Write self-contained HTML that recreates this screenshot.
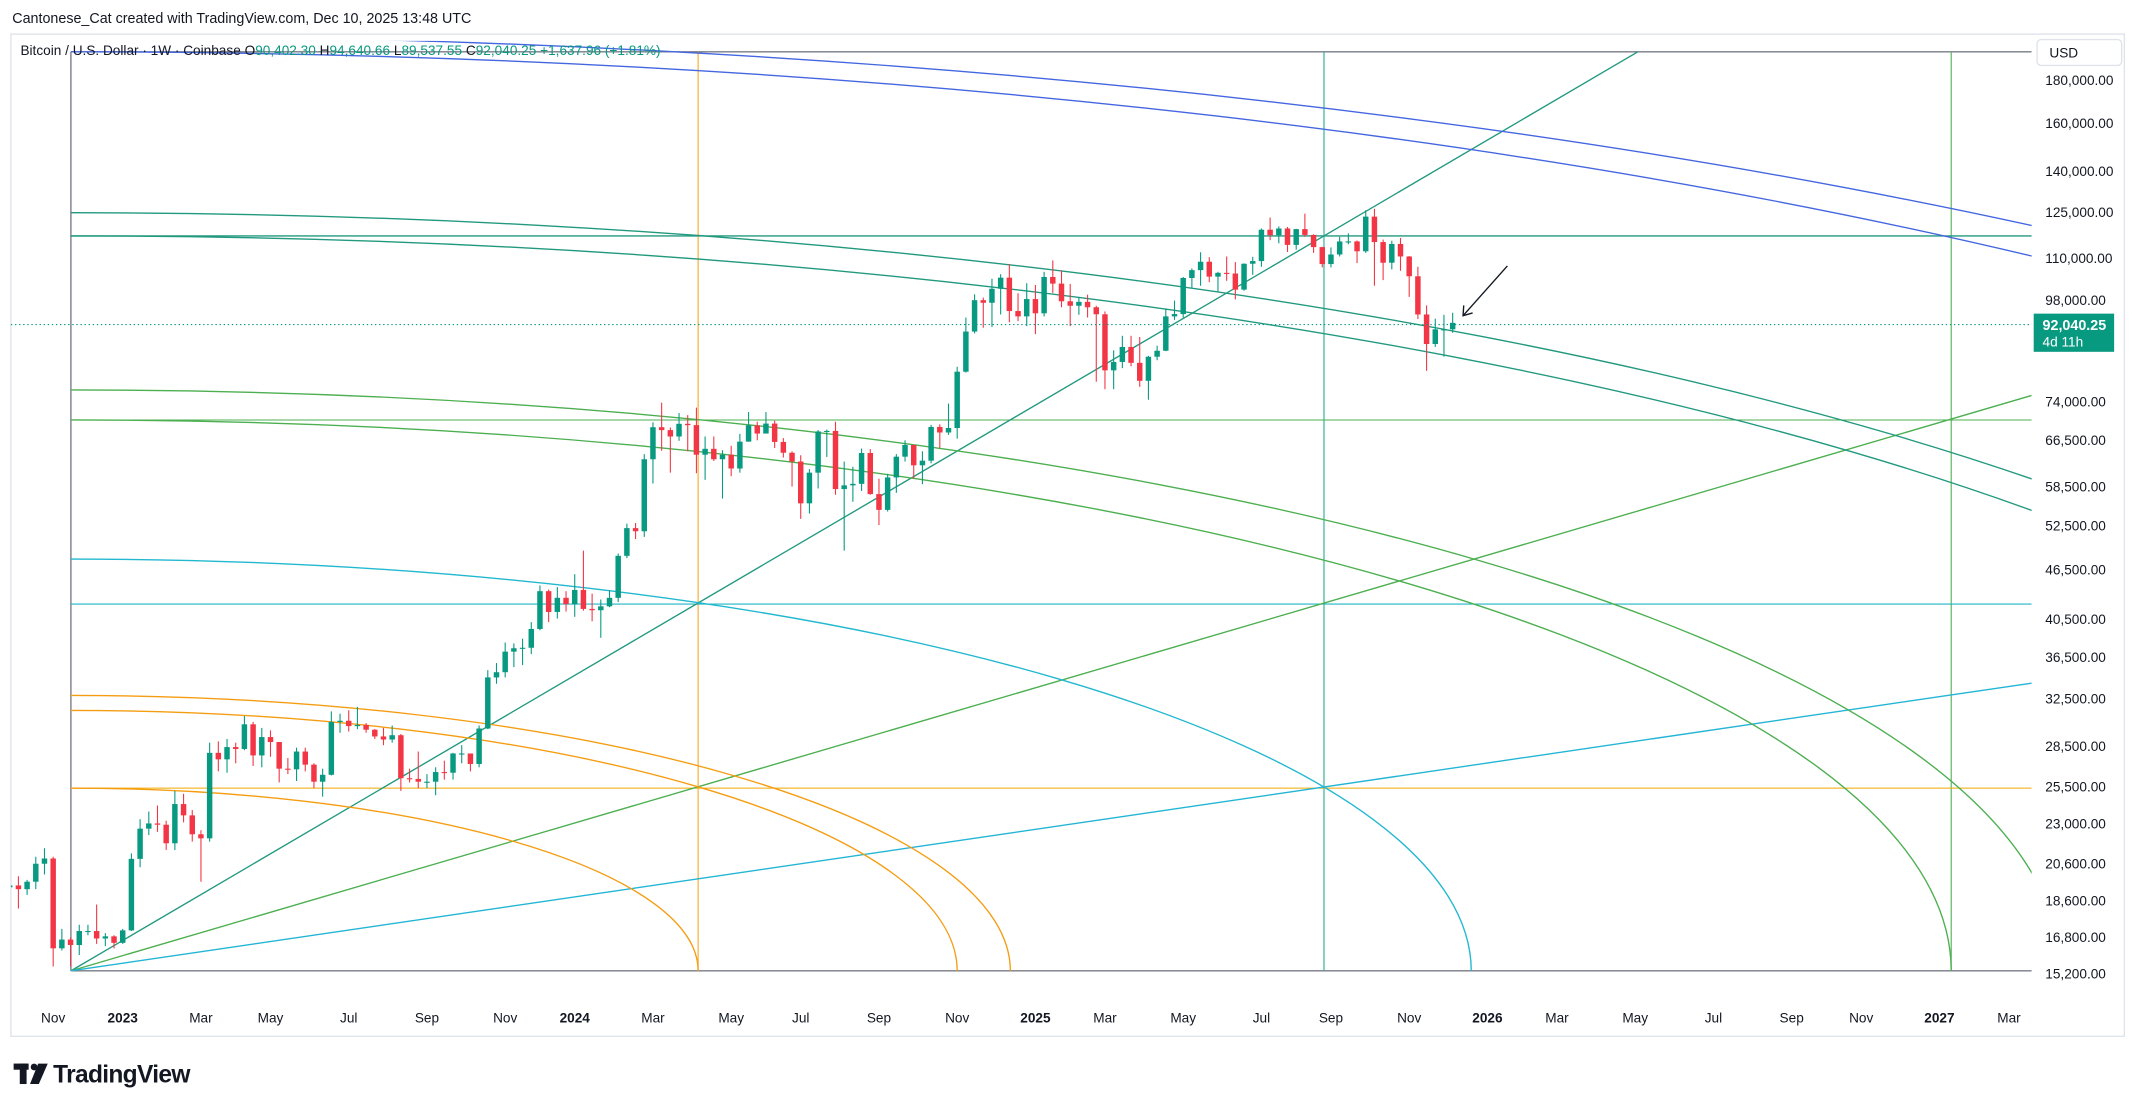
<!DOCTYPE html>
<html><head><meta charset="utf-8"><style>
html,body{margin:0;padding:0;background:#fff;}
svg{display:block;font-family:"Liberation Sans",sans-serif;}
</style></head><body>
<svg id="chart" width="2138" height="1109" viewBox="0 0 1568 813.3" xmlns="http://www.w3.org/2000/svg">
<rect x="0" y="0" width="1568" height="813.3" fill="#fff"/>
<text x="9" y="17" font-size="10.5" fill="#131722">Cantonese_Cat created with TradingView.com, Dec 10, 2025 13:48 UTC</text>
<rect x="8" y="25" width="1550" height="735" fill="none" stroke="#e0e3eb" stroke-width="1"/>
<defs><clipPath id="plotclip"><rect x="8" y="30" width="1482" height="683.5"/></clipPath></defs>
<g id="drawings" clip-path="url(#plotclip)"></g>
<g id="candles" clip-path="url(#plotclip)"></g>
<line x1="8" x2="1490" y1="238" y2="238" stroke="#089981" stroke-width="0.8" stroke-dasharray="1,2"/>
<g>
<line x1="1105.5" y1="195" x2="1073" y2="231.5" stroke="#131722" stroke-width="1"/>
<polyline points="1073.5,224 1073,231.5 1080,229.5" fill="none" stroke="#131722" stroke-width="1"/>
</g>
<text x="15" y="40.5" font-size="10" fill="#131722">Bitcoin / U.S. Dollar · 1W · Coinbase <tspan>O</tspan><tspan fill="#089981">90,402.30</tspan> <tspan>H</tspan><tspan fill="#089981">94,640.66</tspan> <tspan>L</tspan><tspan fill="#089981">89,537.55</tspan> <tspan>C</tspan><tspan fill="#089981">92,040.25 +1,637.96 (+1.81%)</tspan></text>
<g id="yaxis"></g>
<g id="xaxis"></g>
<g>
<rect x="1494" y="29" width="62" height="19" rx="3" fill="#fff" stroke="#e0e3eb"/>
<text x="1503" y="42" font-size="10" fill="#131722">USD</text>
</g>
<g>
<rect x="1491.5" y="230" width="59" height="28" fill="#089981"/>
<text x="1498" y="242" font-size="10.5" fill="#fff" font-weight="bold">92,040.25</text>
<text x="1498" y="254" font-size="10" fill="#fff">4d 11h</text>
</g>
<g>
<rect x="10" y="780" width="11" height="4.5" fill="#131722"/>
<rect x="14.5" y="780" width="5" height="15" fill="#131722"/>
<circle cx="25" cy="782.5" r="2.5" fill="#131722"/>
<polygon points="28,780 35,780 28.5,795 22,795" fill="#131722"/>
<text x="39" y="794" font-size="18" font-weight="bold" fill="#131722" letter-spacing="-0.5">TradingView</text>
</g>
</svg>
<script>
// ---- data (weekly BTC/USD, thousands USD), first week = Sep 26 2022 ----
const firstOpen = 18.8;
const closes = [19.3,19.4,19.2,19.6,20.6,20.9,16.3,16.7,16.45,17.1,17.1,16.75,16.85,16.55,17.13,20.88,22.7,23.03,22.95,21.8,24.3,23.55,22.35,22.1,28.0,27.5,28.45,28.3,30.3,27.8,29.25,28.85,26.8,26.75,28.1,27.1,25.85,26.35,30.5,30.6,30.15,30.25,29.85,29.3,29.05,29.4,26.1,26.05,25.85,25.85,26.55,26.5,27.95,27.95,27.15,29.95,34.5,35.0,37.05,37.4,37.45,39.45,43.8,41.35,43.0,42.25,43.95,41.7,41.55,42.0,43.0,48.3,52.15,51.7,63.1,68.95,68.4,67.2,69.6,69.35,63.9,64.95,63.1,63.9,61.5,66.25,69.3,67.75,69.65,66.2,64.25,62.7,55.85,60.8,68.15,68.25,58.1,58.7,58.95,64.2,57.3,54.85,60.0,63.55,65.65,62.05,62.85,69.0,67.95,68.8,80.4,89.85,98.0,97.3,101.15,104.3,95.1,93.7,98.3,94.5,104.5,102.6,97.7,96.5,97.55,96.1,94.25,80.7,82.6,86.1,82.4,78.4,83.8,85.2,93.7,94.3,104.2,106.5,109.0,104.6,105.7,105.5,100.9,108.4,109.2,119.1,117.3,119.5,114.2,119.3,117.4,113.5,108.3,111.2,115.3,115.3,112.2,123.5,115.1,108.7,114.5,110.6,104.7,94.2,86.8,90.4,90.4,92.04];
const highs = [20.2,20.5,19.9,19.7,21.0,21.5,21.0,17.2,16.8,17.4,17.4,18.4,17.0,16.9,17.2,21.2,23.3,23.8,24.2,23.2,25.2,25.0,23.9,22.6,28.8,28.9,29.1,28.8,31.0,30.5,30.0,29.8,28.2,27.6,28.4,28.4,27.2,26.8,31.4,31.2,31.5,31.8,30.4,29.9,30.0,30.2,29.5,26.8,28.1,26.4,26.9,27.4,28.0,28.6,27.9,30.2,35.2,35.9,38.0,37.9,38.4,40.2,44.5,44.0,44.3,43.8,45.9,49.0,43.5,42.8,43.9,48.6,52.8,52.9,64.0,69.9,73.8,68.9,71.7,71.3,72.8,67.2,67.2,64.7,65.5,67.7,71.9,70.0,71.9,70.2,66.9,64.5,63.8,61.4,68.4,68.5,70.0,62.7,61.8,65.0,64.9,59.8,60.6,64.0,66.5,65.6,64.5,69.4,69.5,73.6,81.5,93.4,99.6,98.7,104.0,105.3,108.3,99.9,102.7,102.2,106.0,109.4,106.4,102.5,98.8,99.5,96.5,95.0,85.3,88.8,88.8,88.5,84.0,86.4,95.8,97.9,104.5,107.0,111.9,110.4,106.0,110.6,108.9,108.5,110.5,119.5,123.2,120.2,120.0,119.4,124.5,117.6,113.6,113.4,116.8,117.9,115.6,125.7,126.2,115.9,115.5,116.4,110.7,107.5,96.6,93.1,94.1,94.64];
const lows = [18.5,19.0,18.2,18.9,19.2,20.0,15.5,16.2,15.5,16.0,16.9,16.5,16.4,16.3,16.5,17.1,20.4,22.3,22.5,21.4,21.4,23.1,21.9,19.6,21.9,26.6,26.5,27.2,28.2,27.0,26.9,27.7,25.8,26.4,25.9,26.6,25.4,24.8,26.3,29.6,29.7,29.9,29.6,29.1,28.6,28.8,25.2,25.8,25.4,25.4,24.9,26.0,26.0,27.2,26.6,26.9,29.9,33.9,34.5,35.5,35.7,36.8,39.3,40.2,40.6,41.4,40.8,41.5,40.3,38.5,41.9,42.5,48.0,50.6,50.9,59.0,64.6,60.8,66.4,64.5,60.7,59.6,62.8,56.6,60.2,60.8,66.6,66.5,68.4,65.1,63.4,58.5,53.5,54.3,58.2,63.5,57.2,49.0,56.1,57.8,57.2,52.6,54.6,57.5,62.7,59.8,58.9,62.4,65.1,67.5,66.8,80.2,89.4,90.8,91.0,94.2,92.2,92.5,91.2,89.2,93.7,100.0,96.1,91.2,94.1,93.4,78.2,76.6,76.6,81.2,81.6,77.1,74.4,83.0,85.1,92.8,93.4,101.5,102.0,103.0,100.4,103.4,98.2,100.6,105.1,107.5,115.7,114.7,112.0,112.7,116.8,111.7,107.3,107.3,110.6,114.4,108.6,111.7,102.0,103.6,106.7,106.3,98.9,93.0,80.6,86.1,83.8,89.54];
const firstWeekOffset = -14; // weeks relative to Jan 2 2023

const priceTicks = [180000,160000,140000,125000,110000,98000,74000,66500,58500,52500,46500,40500,36500,32500,28500,25500,23000,20600,18600,16800,15200];
const timeLabels = ["Nov","2023","Mar","May","Jul","Sep","Nov","2024","Mar","May","Jul","Sep","Nov","2025","Mar","May","Jul","Sep","Nov","2026","Mar","May","Jul","Sep","Nov","2027","Mar"];
const timeLabelWeeks = [-8,0,9,17,26,35,44,52,61,70,78,87,96,105,113,122,131,139,148,157,165,174,183,192,200,209,217];

// ---- axis functions ----
function yOf(p){ return 714 - 265*Math.log(p/15200); }
function xOf(w){ return 90 + w*6.375; }

const NS="http://www.w3.org/2000/svg";
function mk(tag, attrs, parent){ const e=document.createElementNS(NS,tag); for(const k in attrs) e.setAttribute(k,attrs[k]); parent.appendChild(e); return e; }

// ---- drawings ----
const dg=document.getElementById('drawings');
const X0=52, Y0=712;
function hline(y,x1,x2,col,w,name){ const l=mk('line',{x1:x1,x2:x2,y1:y,y2:y,stroke:col,'stroke-width':w},dg);

 }
function vline(x,col,w,name){ const l=mk('line',{x1:x,x2:x,y1:38,y2:712,stroke:col,'stroke-width':w},dg);

 }
hline(38,52,1490,'#787b86',1,'box-top');
hline(712,52,1490,'#787b86',1,'box-bottom');
vline(52,'#787b86',1,'box-left');
vline(512,'#f5a623',0.8,'vertical-orange');
vline(971,'#22ab94',0.8,'vertical-teal');
vline(1431,'#4caf50',0.8,'vertical-green');
hline(173,52,1490,'#22997f',1,'horizontal-teal');
hline(308,52,1490,'#4caf50',0.8,'horizontal-green');
hline(443,52,1490,'#22b5c5',0.8,'horizontal-cyan');
hline(578,52,1490,'#f0a800',0.8,'horizontal-orange');
function ray(x2,y2,col,name){ const l=mk('line',{x1:X0,y1:Y0,x2:x2,y2:y2,stroke:col,'stroke-width':1},dg);

 }
const tealSlope=(712-173)/(971-52);
ray(X0+(712-38)/tealSlope,38,'#22997f','fan-line-teal');
ray(1490,290,'#4caf50','fan-line-green');
ray(1490,501,'#22b5d5','fan-line-cyan');
function arc(a,b,col,name){ const p=mk('path',{d:`M ${X0} ${Y0-b} A ${a} ${b} 0 0 1 ${X0+a} ${Y0}`,fill:'none',stroke:col,'stroke-width':1},dg);

 }
arc(460,134,'#f59d12','arc-orange-1');
arc(650,191,'#f59d12','arc-orange-2');
arc(689,202,'#f59d12','arc-orange-3');
arc(1027,302,'#22b8d0','arc-cyan');
arc(1379,404,'#4caf50','arc-green-1');
arc(1459,426,'#4caf50','arc-green-2');
arc(1845,539,'#22997f','arc-teal-1');
arc(1890,556,'#22997f','arc-teal-2');
arc(2288,674,'#4466e0','arc-blue-1');
arc(2380,686,'#4466e0','arc-blue-2');

// ---- candles ----
const cg=document.getElementById('candles');
const n=Math.min(closes.length,highs.length,lows.length);
for(let i=0;i<n;i++){
  const o=i?closes[i-1]:firstOpen, c=closes[i];
  const h=Math.max(highs[i],o,c), l=Math.min(lows[i],o,c);
  const x=xOf(firstWeekOffset+i);
  const col=c>=o?'#089981':'#f23645';
  const g=mk('g',{},cg);
  
  
  mk('line',{x1:x,x2:x,y1:yOf(h*1000),y2:yOf(l*1000),stroke:col,'stroke-width':0.8},g);
  const yt=yOf(Math.max(o,c)*1000), yb=yOf(Math.min(o,c)*1000);
  mk('rect',{x:x-2,y:yt,width:4,height:Math.max(0.8,yb-yt),fill:col},g);
}

// ---- y axis ----
const ya=document.getElementById('yaxis');
priceTicks.forEach(p=>{
  const t=mk('text',{x:1500,y:yOf(p)+3.5,'font-size':10,fill:'#131722'},ya);
  t.textContent=p.toLocaleString('en-US',{minimumFractionDigits:2,maximumFractionDigits:2});
  
  
});
// ---- x axis ----
const xa=document.getElementById('xaxis');
timeLabels.forEach((s,i)=>{
  const isYear=/^\d{4}$/.test(s);
  const t=mk('text',{x:xOf(timeLabelWeeks[i]),y:750,'font-size':10,fill:'#131722','text-anchor':'middle','font-weight':isYear?'bold':'normal'},xa);
  t.textContent=s;
  
  
});
</script>
</body></html>
